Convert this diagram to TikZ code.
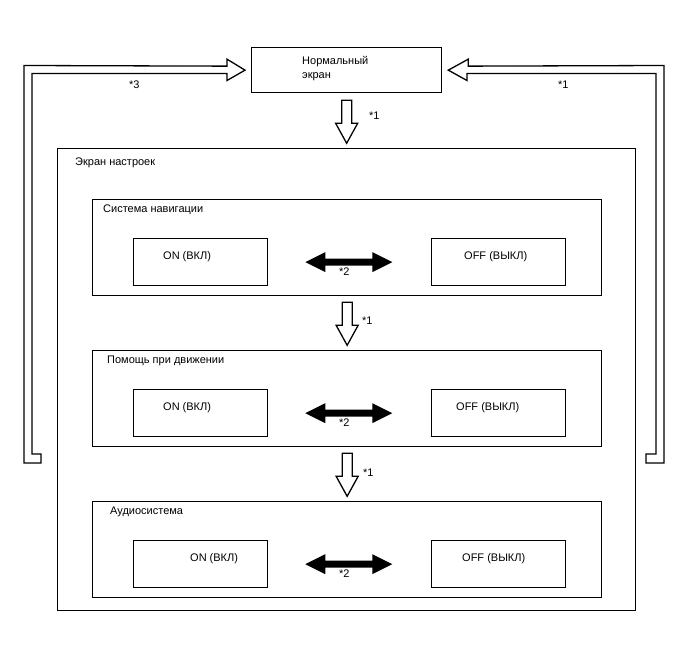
\documentclass[tikz,border=0pt]{standalone}
\usepackage{fontspec}
\setmainfont{Liberation Sans}
\begin{document}
\begin{tikzpicture}[x=1pt,y=-1pt,
    box/.style={draw,line width=1.3pt,anchor=north west,inner sep=0pt},
    lbl/.style={anchor=west,inner sep=0pt,font=\fontsize{11}{14}\selectfont},
    hollow/.style={draw,line width=1.3pt,fill=white,line join=miter}]
  \useasboundingbox (0,0) rectangle (688,658);
  % normal screen
  \node[box,minimum width=190,minimum height=45] (normal) at (251,47) {};
  \node[lbl,anchor=north west,align=left] (normaltxt) at (302,56) {Нормальный\\экран};
  % settings screen
  \node[box,minimum width=578,minimum height=462] (settings) at (57,148) {};
  \node[lbl] (settingstxt) at (75,163) {Экран настроек};
  \foreach \n/\y/\txt/\tx/\onx/\offx in {nav/199/Система навигации/103/163/464,
      assist/350/Помощь при движении/107/163/456,
      audio/501/Аудиосистема/110/190/462}{
    \node[box,minimum width=509,minimum height=96] (\n-box) at (92,\y) {};
    \node[lbl] (\n-txt) at (\tx,\y+11) {\txt};
    \node[box,minimum width=134,minimum height=47] (\n-on) at (133,\y+39) {};
    \node[box,minimum width=134,minimum height=47] (\n-off) at (431,\y+39) {};
    \node[lbl] (\n-ontxt) at (\onx,\y+58) {ON (ВКЛ)};
    \node[lbl] (\n-offtxt) at (\offx,\y+58) {OFF (ВЫКЛ)};
    \fill ([xshift=37]\n-on.east) -- ++(20,-10) -- ++(0,6.5) -- ++(47,0) -- ++(0,-6.5)
      -- ++(20,10) -- ++(-20,10) -- ++(0,-6.5) -- ++(-47,0) -- ++(0,6.5) -- cycle;
    \node[lbl] (\n-star) at (339,\y+73) {*2};
  }
  % down arrows
  \draw[hollow] ([shift={(-5,7)}]normal.south) -- ++(0,23) -- ++(-6,0) -- ++(11,20)
    -- ++(11,-20) -- ++(-6,0) -- ++(0,-23) -- cycle;
  \node[lbl] (star1) at (369,116) {*1};
  \draw[hollow] ([shift={(-5,6)}]nav-box.south) -- ++(0,23) -- ++(-6,0) -- ++(11,20)
    -- ++(11,-20) -- ++(-6,0) -- ++(0,-23) -- cycle;
  \node[lbl] (star2) at (362,321) {*1};
  \draw[hollow] ([shift={(-5,6)}]assist-box.south) -- ++(0,23) -- ++(-6,0) -- ++(11,20)
    -- ++(11,-20) -- ++(-6,0) -- ++(0,-23) -- cycle;
  \node[lbl] (star3) at (363,473) {*1};
  % return arrows
  \draw[hollow] ([xshift=-6]normal.west) -- ++(-18,-11) -- ++(0,7) -- (24,65.5) -- (24,463)
    -- (41,463) -- (41,454) -- (32,454) -- (32,73.5) -- (227,73.5) -- (227,80.5) -- cycle;
  \node[lbl] (star4) at (129,85) {*3};
  \draw[hollow] ([xshift=6]normal.east) -- ++(20,-11) -- ++(0,7) -- (664,65.5) -- (664,463)
    -- (646,463) -- (646,454) -- (656,454) -- (656,73.5) -- (467,73.5) -- (467,80.5) -- cycle;
  \node[lbl] (star5) at (558,85) {*1};
\end{tikzpicture}
\end{document}
